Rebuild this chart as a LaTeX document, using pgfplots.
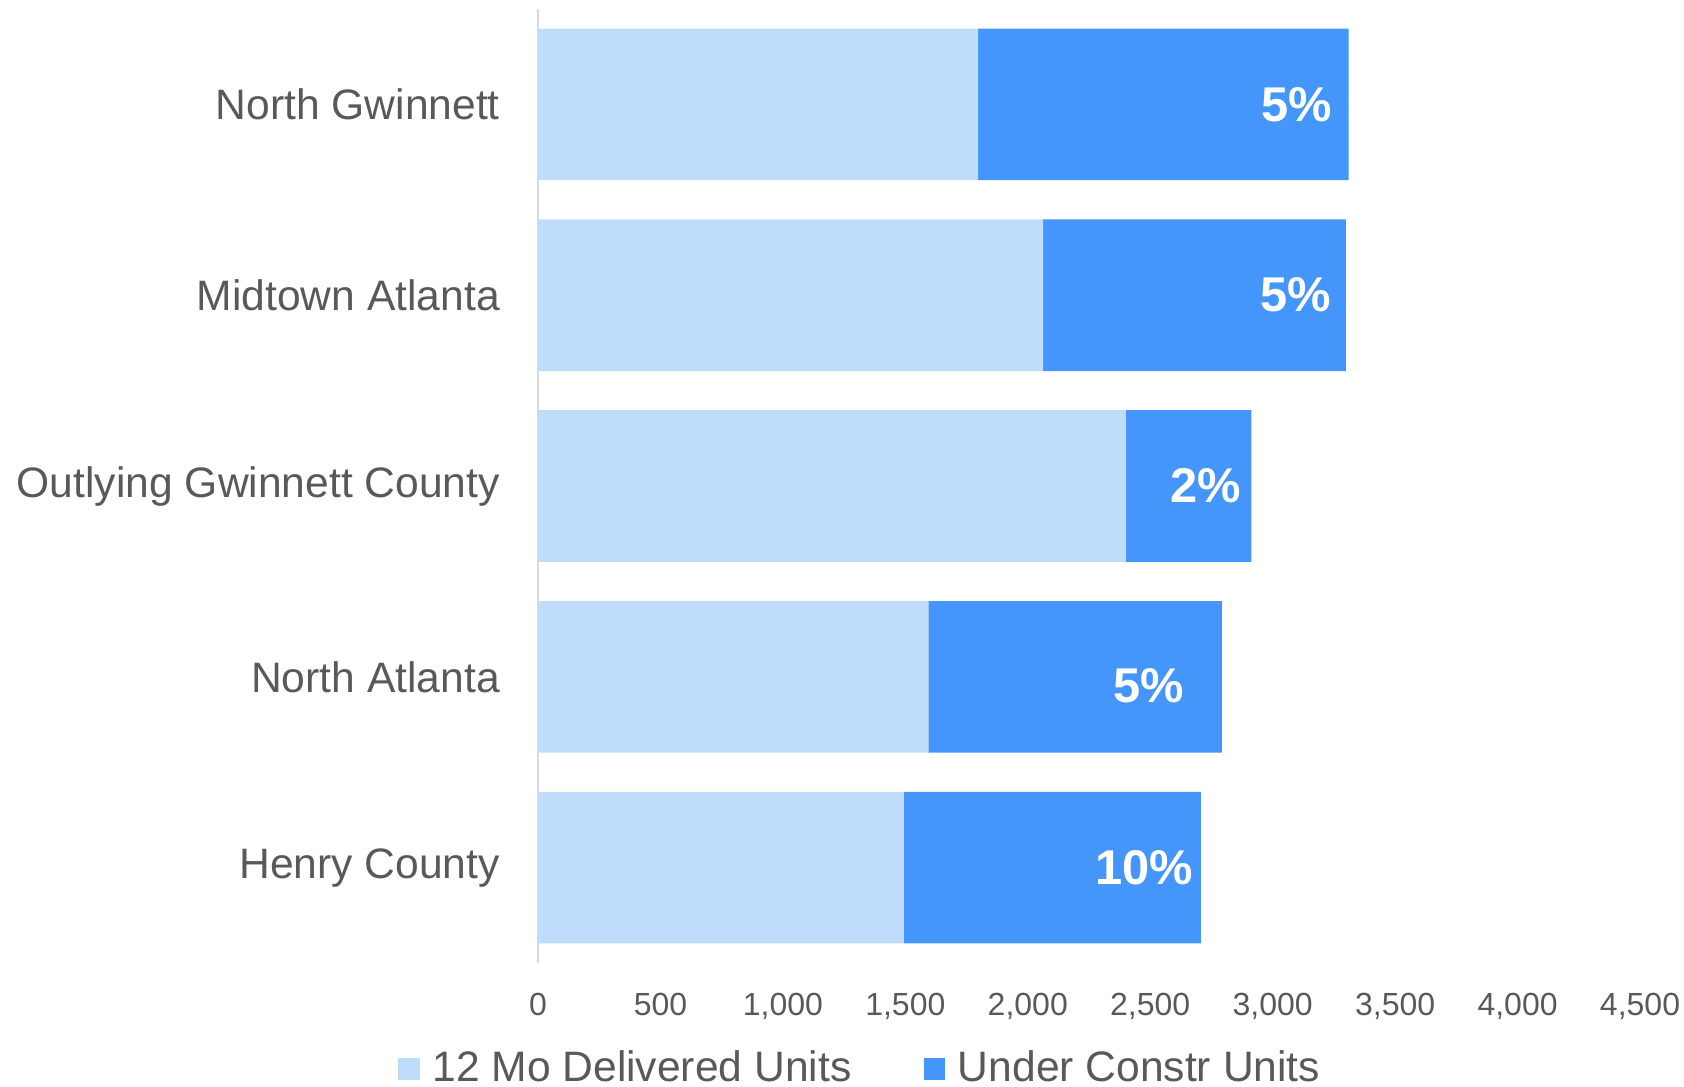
\documentclass[border=0pt]{standalone}
\usepackage{fontspec}
\setmainfont{Liberation Sans}
\usepackage{pgfplots}
\pgfplotsset{compat=1.18}
\usepackage{pgfplotstable}
\definecolor{lightb}{RGB}{191,220,250}
\definecolor{darkb}{RGB}{68,150,250}
\definecolor{txt}{RGB}{89,89,89}
\definecolor{axl}{RGB}{217,217,217}
\pgfplotstableread{
idx delivered uc pct xs ys
0 1797 1513 5 -4 0
1 2063 1236 5 -3.5 0
2 2400 513 2 -2.5 0
3 1594 1199 5 -9.25 -2.25
4 1494 1213 10 -1.75 0
}\mytable
\begin{document}
\begin{tikzpicture}
\begin{axis}[
  scale only axis,
  width=275.5pt, height=238.5pt,
  xbar stacked,
  bar width=37.9pt,
  xmin=0, xmax=4500,
  ymin=-0.5, ymax=4.5,
  y dir=reverse,
  ytick={0,1,2,3,4},
  yticklabels={North Gwinnett,Midtown Atlanta,Outlying Gwinnett County,North Atlanta,Henry County},
  xtick={0,500,...,4500},
  axis lines*=left,
  x axis line style={draw=none},
  y axis line style={draw=axl, line width=0.6pt},
  major tick length=0pt,
  /pgf/number format/assume math mode=true,
  /pgf/number format/1000 sep={,},
  xticklabel style={font=\fontsize{8}{9}\selectfont, text=txt, yshift=-4pt},
  yticklabel style={font=\fontsize{10.65}{12}\selectfont, text=txt, xshift=-6pt},
  legend style={draw=none, at={(0.295,-0.111)}, anchor=center,
    font=\fontsize{10.65}{12}\selectfont, text=txt,
    /tikz/every even column/.append style={column sep=16pt}},
  legend columns=2,
  legend image code/.code={\fill[#1] (0pt,-2.7pt) rectangle (5.4pt,2.7pt); \path (6.6pt,0pt);},
  legend cell align=left,
]
\addplot[fill=lightb, draw=none] table[x=delivered, y=idx] {\mytable};
\addlegendentry{12 Mo Delivered Units}
\addplot[fill=darkb, draw=none,
  point meta=explicit,
  visualization depends on={0.5*\thisrow{uc}*275.5/4500 + \thisrow{xs} \as \myxs},
  visualization depends on={\thisrow{ys} \as \myys},
  nodes near coords={\pgfmathprintnumber{\pgfplotspointmeta}\%},
  every node near coord/.append style={font=\bfseries\fontsize{12.2}{14}\selectfont,
    text=white, anchor=east, inner sep=0pt, xshift=\myxs pt, yshift=\myys pt},
  ] table[x=uc, y=idx, meta=pct] {\mytable};
\addlegendentry{Under Constr Units}
\coordinate (ll) at (rel axis cs:0,0);
\coordinate (ur) at (rel axis cs:1,1);
\end{axis}
\pgfresetboundingbox
\path ([shift={(-134.5pt,-31pt)}]ll) rectangle ([shift={(11pt,2.25pt)}]ur);
\end{tikzpicture}
\end{document}
